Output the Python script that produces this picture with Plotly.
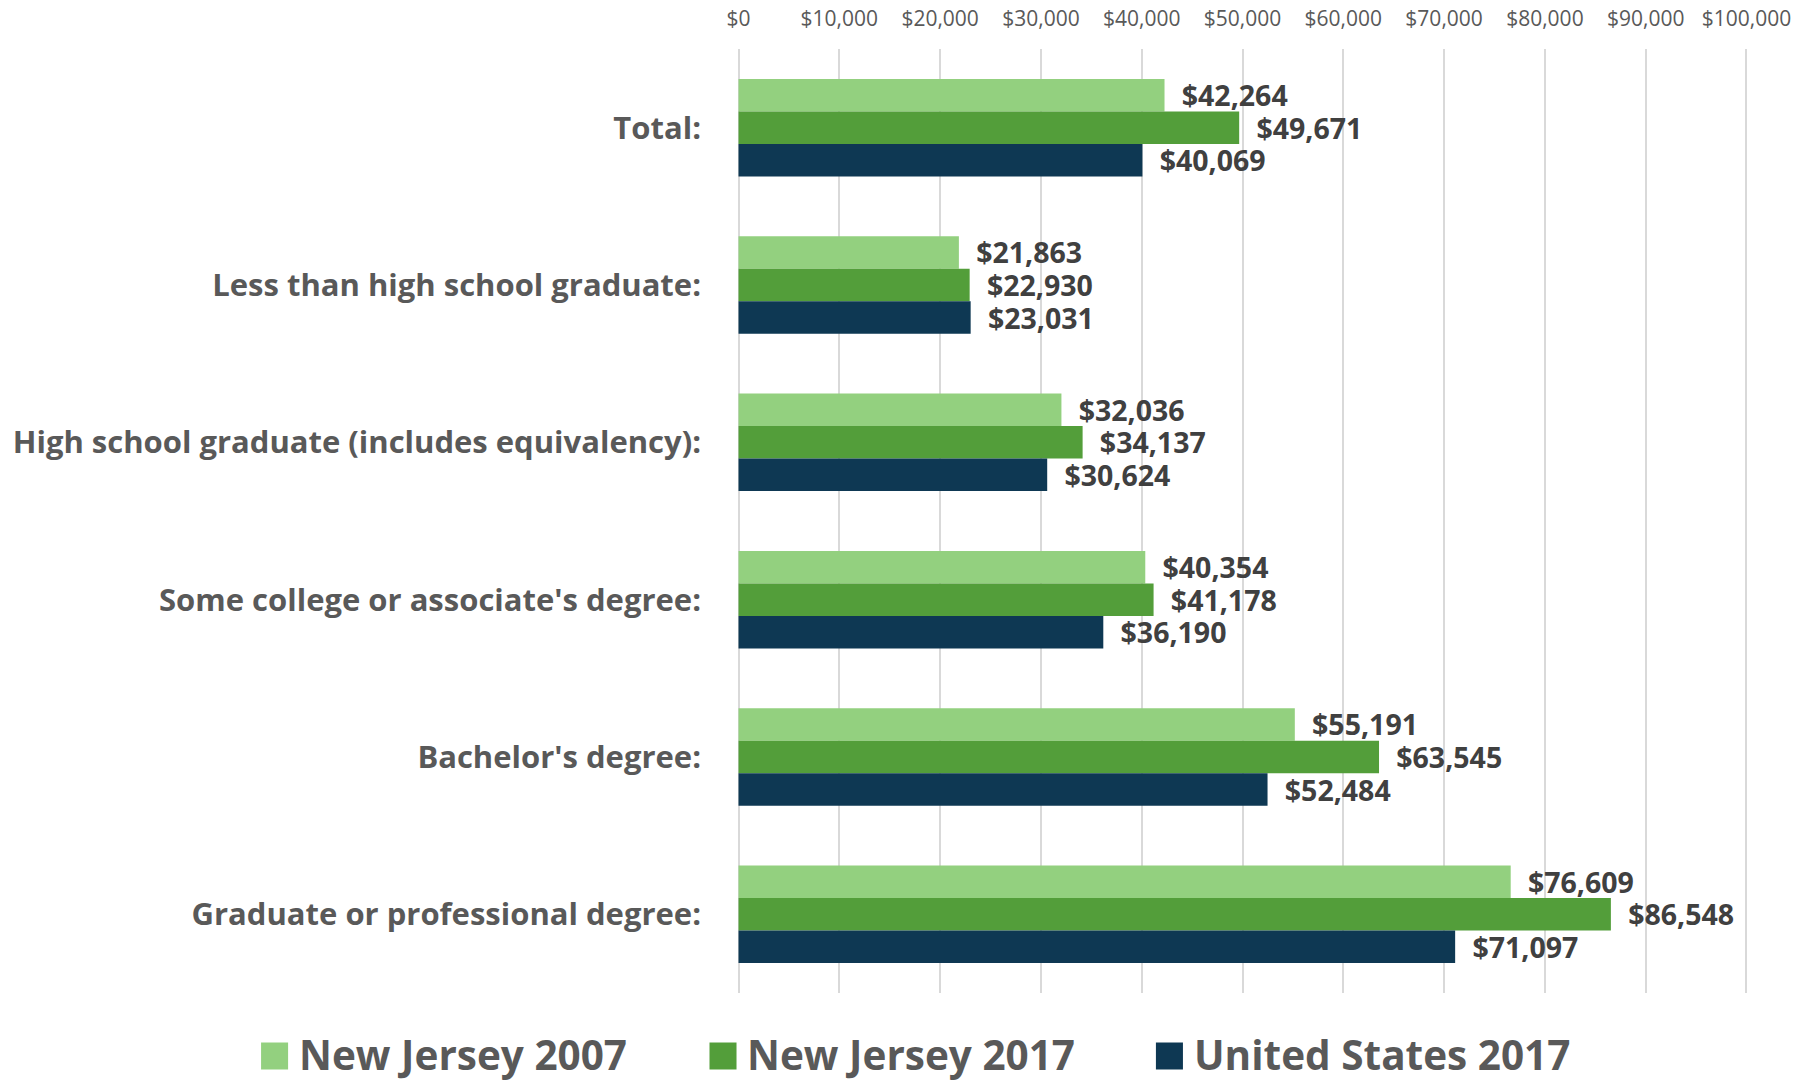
import plotly.graph_objects as go

categories = ["Total:", "Less than high school graduate:", "High school graduate (includes equivalency):",
              "Some college or associate's degree:", "Bachelor's degree:", "Graduate or professional degree:"]
series_names = ["New Jersey 2007", "New Jersey 2017", "United States 2017"]
nj_2007 = [42264, 21863, 32036, 40354, 55191, 76609]
nj_2017 = [49671, 22930, 34137, 41178, 63545, 86548]
us_2017 = [40069, 23031, 30624, 36190, 52484, 71097]
colors = ["#93D07F", "#539E3A", "#0E3853"]

W, H = 1803, 1081
PAD = 250  # small range padding so the edge gridlines show
px_per_unit = (1746 - 739) / 100000
L = 739 - PAD * px_per_unit
R = W - (1746 + PAD * px_per_unit)
T = 49
B = H - 993
pw, ph = W - L - R, H - T - B

fig = go.Figure()
for name, vals, c in zip(series_names, [nj_2007, nj_2017, us_2017], colors):
    fig.add_trace(go.Bar(
        y=categories, x=vals, name=name, orientation="h",
        marker=dict(color=c, line=dict(width=0)),
        texttemplate="\u2002$%{x:,}", textposition="outside",
        constraintext="none", cliponaxis=False,
        textfont=dict(family="Open Sans", size=28.5, color="#404040", weight="bold"),
        showlegend=False,
    ))

fig.update_layout(
    width=W, height=H,
    margin=dict(l=L, r=R, t=T, b=B, autoexpand=False),
    paper_bgcolor="white", plot_bgcolor="white",
    barmode="group", bargap=0.38, bargroupgap=0,
    font=dict(family="Open Sans", color="#595959"),
    xaxis=dict(side="top", range=[-PAD, 100000 + PAD], tick0=0, dtick=10000,
               tickprefix="$", tickformat=",",
               showgrid=True, gridcolor="#D9D9D9", gridwidth=2, zeroline=False,
               showline=False, tickfont=dict(size=21, color="#595959"), ticks="",
               ticklabelstandoff=18),
    yaxis=dict(autorange="reversed", showgrid=False, showline=False, zeroline=False,
               ticks="", ticklabelstandoff=34,
               tickfont=dict(size=31, color="#595959", weight="bold")),
)

# Legend drawn manually (large squares)
leg_sq_x = [262, 710, 1156]
leg_txt_x = [299, 746, 1193]
sq = 27
ycen = 1054
for name, c, sx, tx in zip(series_names, colors, leg_sq_x, leg_txt_x):
    fig.add_shape(type="rect", xref="paper", yref="paper",
                  x0=(sx - L) / pw, x1=(sx + sq - L) / pw,
                  y0=(H - B - (ycen + 2 + sq / 2)) / ph, y1=(H - B - (ycen + 2 - sq / 2)) / ph,
                  fillcolor=c, line=dict(width=0))
    fig.add_annotation(xref="paper", yref="paper", x=(tx - L) / pw, y=(H - B - ycen) / ph,
                       text=name, showarrow=False, xanchor="left", yanchor="middle", borderpad=0,
                       font=dict(family="Open Sans", size=40.5, color="#595959", weight="bold"))

fig.write_html("out.html", config={"displayModeBar": False},
               post_script="document.body.style.margin='0';document.body.style.overflow='hidden';")
